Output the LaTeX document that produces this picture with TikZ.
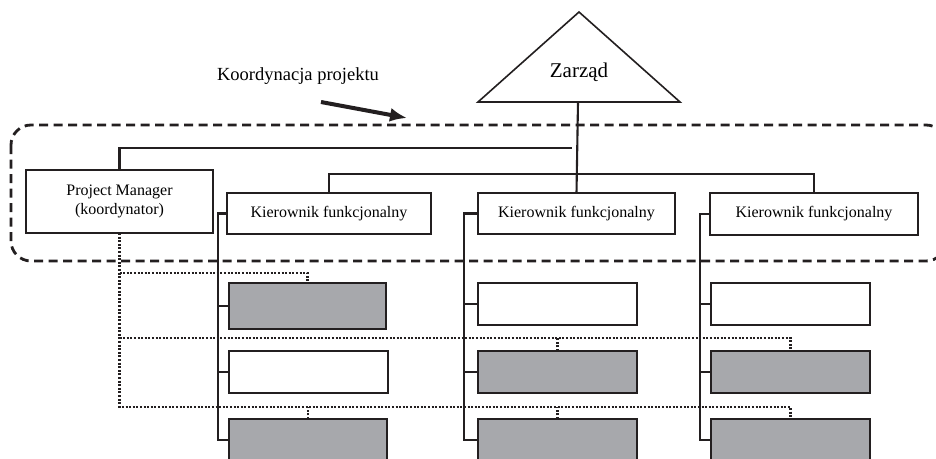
\documentclass[tikz,border=0pt]{standalone}
\usepackage{fontspec}
\setmainfont{Liberation Serif}
\usetikzlibrary{arrows.meta}
\definecolor{boxgray}{RGB}{167,168,172}
\definecolor{ink}{RGB}{35,31,32}
\begin{document}
\begin{tikzpicture}[x=1pt,y=-1pt,
  every node/.style={inner sep=0pt,outer sep=0pt},
  box/.style={draw=ink,line width=2.3pt,fill=white,minimum width=#1},
  gbox/.style={draw=ink,line width=2.3pt,fill=boxgray,minimum width=#1},
  conn/.style={draw=ink,line width=2.1pt},
  dotline/.style={draw=ink,line width=2.6pt,dash pattern=on 2pt off 1.6pt},
  dashline/.style={draw=ink,line width=2.8pt,dash pattern=on 9pt off 5.5pt},
  kf/.style={font=\fontsize{16}{19}\selectfont}]
\useasboundingbox (0,0) rectangle (936,458);
\clip (0,0) rectangle (936,458);
\fill[white] (0,0) rectangle (936,458);
% Zarzad triangle
\coordinate (apex) at (579,12);
\coordinate (tl) at (478,102);
\coordinate (tr) at (680,102);
\coordinate (tb) at (578,102);
\draw[draw=ink,line width=1.6pt,line join=miter] (apex) -- (tr) -- (tl) -- cycle;
\node[font=\fontsize{21}{24}\selectfont] (zarzad) at (579,72) {Zarząd};
% label and arrow
\node[font=\fontsize{18.5}{22}\selectfont] (koord) at (298,76) {Koordynacja projektu};
\coordinate (arrS) at (321,102);
\coordinate (arrE) at (407,118);
\draw[draw=ink,line width=4pt,-{Latex[length=17pt,width=14pt]}] (arrS) -- (arrE);
% dashed boundary
\draw[dashline,rounded corners=20pt] (11,125) rectangle (946,261);
% main boxes
\node[box=187pt,minimum height=63pt,align=center,kf] (pm) at (119.5,201.5) {Project Manager\\(koordynator)};
\node[box=204pt,minimum height=41pt,kf] (kf1) at (329,213.5) {Kierownik funkcjonalny};
\node[box=197pt,minimum height=41pt,kf] (kf2) at (576.5,213.5) {Kierownik funkcjonalny};
\node[box=208pt,minimum height=42pt,kf] (kf3) at (814,214) {Kierownik funkcjonalny};
% sub boxes column 1
\node[gbox=157pt,minimum height=46pt] (b11) at (307.5,306) {};
\node[box=159pt,minimum height=42pt] (b12) at (308.5,372) {};
\node[gbox=158pt,minimum height=42pt] (b13) at (308,440) {};
% column 2
\node[box=159pt,minimum height=42pt] (b21) at (557.5,304) {};
\node[gbox=159pt,minimum height=42pt] (b22) at (557.5,372) {};
\node[gbox=159pt,minimum height=42pt] (b23) at (557.5,440) {};
% column 3
\node[box=159pt,minimum height=42pt] (b31) at (790.5,304) {};
\node[gbox=159pt,minimum height=42pt] (b32) at (790.5,372) {};
\node[gbox=159pt,minimum height=42pt] (b33) at (790.5,440) {};
% solid connectors
\coordinate (pmtop) at (572,148);
\draw[conn] (pm.north) |- (pmtop);
\draw[conn] (tb) -- (kf2.north);
\coordinate (bus) at (577,174);
\draw[conn] (kf1.north) |- (bus) -| (kf3.north);
\coordinate (s1) at (218,213.5);
\coordinate (s2) at (464,213.5);
\coordinate (s3) at (700,214);
\draw[conn] (kf1.west) -- (s1) |- (b13.west);
\draw[conn] (s1 |- b11.west) -- (b11.west);
\draw[conn] (s1 |- b12.west) -- (b12.west);
\draw[conn] (kf2.west) -- (s2) |- (b23.west);
\draw[conn] (s2 |- b21.west) -- (b21.west);
\draw[conn] (s2 |- b22.west) -- (b22.west);
\draw[conn] (kf3.west) -- (s3) |- (b33.west);
\draw[conn] (s3 |- b31.west) -- (b31.west);
\draw[conn] (s3 |- b32.west) -- (b32.west);
% dotted coordination lines
\coordinate (d1) at (119.5,273);
\coordinate (d2) at (119.5,338);
\coordinate (d3) at (119.5,407);
\draw[dotline] (pm.south) -- (d3) -| (b33.north);
\draw[dotline] (d1) -| (b11.north);
\draw[dotline] (d2) -| (b32.north);
\draw[dotline] (b22.north) -- (b22.north |- d2);
\draw[dotline] (b13.north) -- (b13.north |- d3);
\draw[dotline] (b23.north) -- (b23.north |- d3);
\end{tikzpicture}
\end{document}
